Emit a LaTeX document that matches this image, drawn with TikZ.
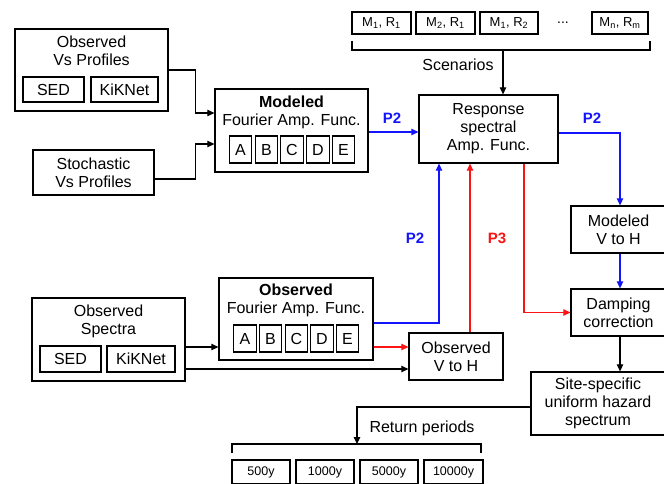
\documentclass[tikz,border=0pt]{standalone}
\usepackage{fontspec}
\setmainfont{Liberation Sans}
\usetikzlibrary{arrows.meta}
\definecolor{pblue}{RGB}{20,20,250}
\definecolor{pred}{RGB}{250,20,20}
\begin{document}
\begin{tikzpicture}[x=1pt,y=-1pt,
  box/.style={draw, line width=1.3pt, inner sep=0pt, align=center, font=\fontsize{16}{18}\selectfont},
  sbox/.style={draw, line width=1.2pt, inner sep=0pt, align=center, font=\fontsize{16}{18}\selectfont},
  lbox/.style={sbox, minimum width=22.5pt, minimum height=27pt},
  tbox/.style={draw, line width=1.2pt, inner sep=0pt, align=center, font=\fontsize{13}{15}\selectfont, minimum height=22pt},
  txt/.style={inner sep=0pt, align=center, font=\fontsize{16}{18}\selectfont},
  plab/.style={inner sep=0pt, font=\fontsize{15}{17}\selectfont\bfseries},
  arr/.style={line width=1.2pt, -{Triangle[length=7pt,width=6.5pt]}},
  ln/.style={line width=1.2pt},
]
\useasboundingbox (0,0) rectangle (664,484);

% Observed Vs Profiles
\node[box, minimum width=153pt, minimum height=82pt] (ovp) at (91.5,70) {};
\node[txt] (ovpt) at (91.5,51) {Observed\\Vs Profiles};
\node[sbox, minimum width=61pt, minimum height=25pt] (ovps) at (53.5,89.5) {SED};
\node[sbox, minimum width=67pt, minimum height=25pt] (ovpk) at (124.5,89.5) {KiKNet};

% Stochastic
\node[box, minimum width=121pt, minimum height=45pt] (svp) at (93.5,172.5) {Stochastic\\Vs Profiles};

% Modeled FAF
\node[box, minimum width=153pt, minimum height=83pt] (mfaf) at (291.5,130.5) {};
\node[txt] (mfaft) at (291.5,112) {\textbf{Modeled}\\Fourier Amp. Func.};
\node[lbox] (ma) at (240.5,149.5) {A};
\node[lbox] (mb) at (266.5,149.5) {B};
\node[lbox] (mc) at (292,149.5) {C};
\node[lbox] (md) at (318,149.5) {D};
\node[lbox] (me) at (343.5,149.5) {E};

% Response
\node[box, minimum width=139pt, minimum height=68pt] (rsaf) at (488.5,129) {Response\\spectral\\Amp. Func.};

% Modeled V to H
\node[box, minimum width=95pt, minimum height=47pt] (mvh) at (618.5,229.5) {Modeled\\V to H};
% Damping
\node[box, minimum width=95pt, minimum height=47pt] (damp) at (618.5,312.5) {Damping\\correction};
% Site-specific
\node[box, minimum width=134pt, minimum height=63pt] (site) at (598,403.5) {Site-specific\\uniform hazard\\spectrum};

% Observed Spectra
\node[box, minimum width=153pt, minimum height=83pt] (ospec) at (108.5,339.5) {};
\node[txt] (ospect) at (108.5,321) {Observed\\Spectra};
\node[sbox, minimum width=61pt, minimum height=26pt] (osps) at (70.5,359) {SED};
\node[sbox, minimum width=68pt, minimum height=26pt] (ospk) at (141,359) {KiKNet};

% Observed FAF
\node[box, minimum width=154pt, minimum height=82pt] (ofaf) at (296,319) {};
\node[txt] (ofaft) at (296,300) {\textbf{Observed}\\Fourier Amp. Func.};
\node[lbox] (oa) at (245,338.5) {A};
\node[lbox] (ob) at (270.5,338.5) {B};
\node[lbox] (oc) at (296.5,338.5) {C};
\node[lbox] (od) at (322,338.5) {D};
\node[lbox] (oe) at (347.5,338.5) {E};

% Observed V to H
\node[box, minimum width=94pt, minimum height=47pt] (ovh) at (456,356.5) {Observed\\V to H};

% Scenarios
\node[tbox, minimum width=59pt] (s1) at (381.5,23) {M\textsubscript{1}, R\textsubscript{1}};
\node[tbox, minimum width=59pt] (s2) at (445.5,23) {M\textsubscript{2}, R\textsubscript{1}};
\node[tbox, minimum width=58pt] (s3) at (509,23) {M\textsubscript{1}, R\textsubscript{2}};
\node[inner sep=0pt, font=\fontsize{14}{16}\selectfont] (sdots) at (563,23) {...};
\node[tbox, minimum width=56pt] (s4) at (620,23) {M\textsubscript{n}, R\textsubscript{m}};
\draw[ln] (352,41) -- (352,50) -- (650,50) -- (650,41);
\coordinate (scm) at (503,50);
\node[txt] (scen) at (458,65) {Scenarios};
\draw[arr] (scm) -- ([xshift=14.5pt]rsaf.north);

% Return periods
\node[tbox, minimum width=58pt, minimum height=24pt, font=\fontsize{12.5}{14}\selectfont] (r1) at (261,472) {500y};
\node[tbox, minimum width=58pt, minimum height=24pt, font=\fontsize{12.5}{14}\selectfont] (r2) at (325,472) {1000y};
\node[tbox, minimum width=58pt, minimum height=24pt, font=\fontsize{12.5}{14}\selectfont] (r3) at (389,472) {5000y};
\node[tbox, minimum width=59pt, minimum height=24pt, font=\fontsize{12.5}{14}\selectfont] (r4) at (453.5,472) {10000y};
\draw[ln] (232,453) -- (232,444) -- (481,444) -- (481,453);
\coordinate (rpm) at (357,444);
\node[txt] (rper) at (422,428) {Return periods};
\draw[arr] ([yshift=-3.5pt]site.west) -| (rpm);

% left connectors
\draw[arr] (ovp.east) -- ++(27,0) |- ([yshift=17.5pt]mfaf.west);
\draw[arr] ([yshift=-6.5pt]svp.east) -- ++(41,0) |- ([yshift=-13.5pt]mfaf.west);
\draw[arr] ([yshift=-7.5pt]ospec.east) -- ([yshift=-28pt]ofaf.west);
\draw[arr] ([yshift=-29.5pt]ospec.east) -- ([yshift=-12.5pt]ovh.west);
\draw[arr, pred] ([yshift=-28pt]ofaf.east) -- ([yshift=9.5pt]ovh.west);

% P2 / P3 connectors
\draw[arr, pblue] ([yshift=-1.5pt]mfaf.east) -- ([yshift=-3pt]rsaf.west);
\node[plab, text=pblue] (p2a) at (392,118) {P2};
\draw[arr, pblue] ([yshift=-4pt]rsaf.east) -| ([xshift=1.5pt]mvh.north);
\node[plab, text=pblue] (p2b) at (592,118) {P2};
\draw[arr, pblue] ([xshift=1.5pt]mvh.south) -- ([xshift=1.5pt]damp.north);
\draw[arr, pred] ([xshift=35.5pt]rsaf.south) |- (damp.west);
\draw[arr] ([xshift=1.5pt]damp.south) -- ([xshift=22pt]site.north);
\draw[arr, pblue] ([yshift=-4pt]ofaf.east) -| ([xshift=-49.5pt]rsaf.south);
\node[plab, text=pblue] (p2c) at (415,238) {P2};
\draw[arr, pred] ([xshift=14pt]ovh.north) -- ([xshift=-18.5pt]rsaf.south);
\node[plab, text=pred] (p3) at (497,238) {P3};
\end{tikzpicture}
\end{document}
